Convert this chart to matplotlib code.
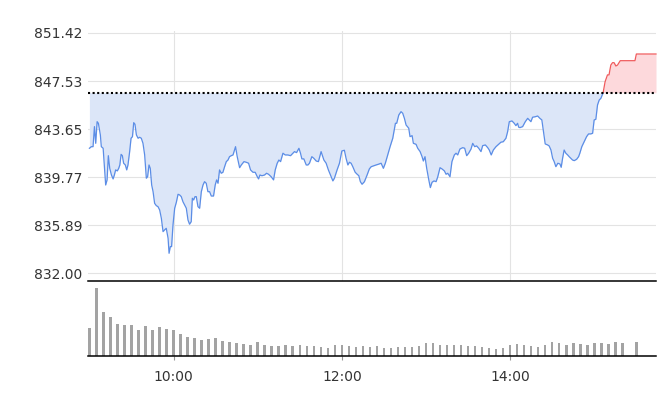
import numpy as np
import matplotlib
matplotlib.use("Agg")
import matplotlib.pyplot as plt
from matplotlib.patches import Rectangle

# intraday index level, minutes after 9:00
minutes = [0.0, 1.4, 2.6, 3.6, 4.5, 5.5, 6.4, 7.8, 8.5, 9.8, 10.9, 11.6, 12.6, 13.5, 14.5,
           15.7, 16.9, 17.8, 18.7, 19.9, 20.9, 21.7, 22.6, 23.5, 24.4, 25.6, 26.6, 27.5,
           28.7, 29.7, 30.7, 31.6, 32.5, 33.5, 34.7, 35.8, 37.0, 38.2, 39.4, 40.6, 41.5,
           42.5, 43.4, 44.4, 45.4, 46.5, 47.7, 48.9, 50.1, 51.3, 52.5, 53.6, 54.8, 56.1,
           56.8, 57.7, 58.6, 59.6, 60.8, 62.0, 63.2, 64.3, 65.5, 66.7, 67.9, 69.1, 70.3,
           71.4, 72.6, 73.4, 74.3, 75.3, 76.2, 77.4, 78.6, 79.8, 81.0, 82.1, 83.3, 84.5,
           85.7, 86.9, 88.5, 89.7, 90.7, 91.7, 92.8, 94.0, 95.2, 96.4, 97.6, 98.8, 99.9,
           101.1, 102.4, 103.5, 104.2, 105.4, 107.1, 108.3, 110.2, 111.8, 113.5, 114.9,
           116.6, 118.2, 119.7, 120.6, 121.6, 123.0, 124.9, 126.3, 127.7, 129.6, 131.3,
           132.5, 133.9, 135.1, 136.3, 138.0, 139.6, 141.5, 143.4, 145.1, 146.2, 147.7,
           149.4, 150.5, 151.5, 152.9, 154.6, 155.8, 156.9, 158.6, 160.0, 161.7, 163.3,
           165.2, 167.2, 168.8, 170.4, 171.9, 173.6, 174.7, 176.6, 178.3, 180.0, 181.8,
           183.0, 184.3, 185.4, 186.6, 187.8, 189.5, 190.9, 192.1, 193.2, 194.4, 196.1,
           198.0, 199.6, 200.9, 202.8, 204.4, 206.1, 208.0, 209.6, 211.0, 212.7, 214.4,
           216.3, 218.2, 219.1, 220.6, 222.2, 223.4, 224.6, 225.8, 227.7, 228.6, 230.1,
           231.0, 232.9, 234.1, 235.8, 237.2, 238.1, 239.3, 240.5, 242.0, 243.1, 244.3,
           245.7, 247.2, 248.4, 250.0, 251.4, 253.1, 254.3, 255.5, 257.1, 258.5, 260.2,
           261.4, 262.6, 264.2, 266.2, 267.6, 269.0, 270.4, 272.1, 273.3, 274.7, 276.1,
           277.6, 279.2, 280.4, 282.3, 284.0, 285.1, 286.5, 288.0, 289.9, 291.8, 293.4,
           295.1, 297.0, 298.2, 299.4, 301.3, 302.9, 304.1, 305.3, 306.1, 307.0, 308.9,
           310.8, 312.5, 313.6, 314.8, 316.0, 317.9, 319.6, 321.2, 322.6, 323.6, 325.0,
           326.7, 327.8, 329.1, 330.3, 331.4, 332.6, 334.0, 335.5, 336.4, 337.4, 338.5,
           339.7, 341.0, 342.1, 343.3, 344.5, 345.7, 347.4, 348.8, 349.7, 351.1, 352.8,
           354.5, 355.9, 357.5, 358.8, 359.9, 361.1, 362.3, 363.5, 364.7, 366.3, 367.7,
           369.4, 370.5, 371.8, 373.0, 374.1, 375.4, 376.6, 378.5, 389.0, 390.0, 404.0]

prices = [842.10, 842.23, 842.23, 843.85, 842.50, 844.25, 844.12, 843.18, 842.23, 842.10,
          840.21, 839.13, 839.54, 841.50, 840.48, 839.94, 839.62, 839.94, 840.35, 840.27,
          840.48, 840.75, 841.61, 841.50, 840.89, 840.75, 840.35, 840.75, 841.83, 842.91,
          843.04, 844.17, 844.04, 843.18, 842.91, 842.99, 842.91, 842.50, 841.56, 839.68,
          839.80, 840.75, 840.48, 839.13, 838.59, 837.65, 837.46, 837.38, 837.11, 836.44,
          835.36, 835.50, 835.63, 834.82, 833.61, 834.15, 834.15, 835.90, 837.25, 837.74,
          838.38, 838.33, 838.19, 837.78, 837.52, 837.25, 836.30, 835.96, 836.17, 838.06,
          837.92, 838.19, 838.19, 837.38, 837.25, 838.59, 839.13, 839.40, 839.27, 838.59,
          838.59, 838.24, 838.24, 839.13, 839.54, 839.27, 840.35, 840.08, 840.16, 840.61,
          841.02, 841.15, 841.42, 841.50, 841.56, 841.96, 842.23, 841.42, 840.53, 840.75,
          841.02, 840.97, 840.89, 840.35, 840.16, 840.16, 839.80, 839.62, 839.94, 839.88,
          839.94, 840.08, 840.00, 839.80, 839.54, 840.35, 840.89, 841.15, 841.02, 841.70,
          841.56, 841.56, 841.50, 841.70, 841.83, 841.75, 842.10, 841.70, 841.24, 841.24,
          840.75, 840.75, 840.89, 841.42, 841.29, 841.07, 841.02, 841.83, 841.15, 840.89,
          840.35, 839.94, 839.46, 839.68, 840.35, 840.89, 841.88, 841.94, 841.29, 840.75,
          840.97, 840.89, 840.61, 840.16, 840.00, 839.88, 839.40, 839.19, 839.40, 839.94,
          840.43, 840.61, 840.69, 840.75, 840.81, 840.89, 840.48, 840.89, 841.56, 842.23,
          842.91, 844.12, 844.12, 844.79, 845.06, 844.93, 844.52, 843.98, 843.72, 843.04,
          843.12, 842.50, 842.42, 842.10, 841.83, 841.42, 841.07, 841.42, 840.48, 839.54,
          838.92, 839.35, 839.46, 839.40, 839.80, 840.53, 840.43, 840.27, 840.00, 840.08,
          839.80, 841.02, 841.56, 841.70, 841.56, 842.04, 842.15, 842.10, 841.50, 841.70,
          842.04, 842.50, 842.23, 842.29, 842.10, 841.83, 842.31, 842.37, 842.15, 841.96,
          841.56, 841.96, 842.23, 842.42, 842.59, 842.63, 842.91, 843.44, 844.25, 844.31,
          844.12, 843.93, 844.12, 843.80, 843.77, 843.85, 844.25, 844.52, 844.39, 844.25,
          844.61, 844.65, 844.71, 844.52, 844.39, 843.58, 842.45, 842.37, 842.29, 841.96,
          841.29, 841.02, 840.61, 840.89, 840.83, 840.56, 841.29, 841.96, 841.70, 841.56,
          841.42, 841.29, 841.15, 841.10, 841.21, 841.42, 841.70, 842.23, 842.63, 843.04,
          843.26, 843.26, 843.31, 844.39, 844.44, 845.60, 846.00, 846.14, 846.59, 847.48,
          848.03, 848.03, 848.83, 849.02, 849.02, 848.75, 848.83, 849.18, 849.18, 849.72,
          849.72]

prevClose = 846.59

# 5 minute volume bars (15:25 has no trades)
barMinutes = list(range(0, 385, 5)) + [390]
volumes = [28, 68, 44, 39, 32, 31, 31, 26, 30, 26, 29, 27, 26, 22, 19, 18, 16, 17, 18, 15,
           14, 13, 12, 11, 14, 11, 10, 10, 11,
           10, 11, 10, 10, 9, 8, 11, 11, 10, 9, 10, 9, 10, 8, 8, 9, 9, 9, 10, 13, 13, 11,
           11, 11, 11, 10, 10, 9,
           8, 7, 8, 11, 12, 11, 10, 9, 11, 14, 13, 11, 13, 12, 11, 13, 13, 12, 14, 13,
           14]

yTicks = [832.00, 835.89, 839.77, 843.65, 847.53, 851.42]
xTicks = [60, 180, 300]
xTickLabels = ["10:00", "12:00", "14:00"]

t = np.array(minutes)
p = np.array(prices)

fig = plt.figure(figsize=(6.58, 4.08), dpi=100)
ax = fig.add_axes([88 / 658, 127 / 408, 568 / 658, 250 / 408])
axVol = fig.add_axes([88 / 658, 52 / 408, 568 / 658, 75 / 408])

# price panel
ax.fill_between(t, p, prevClose, where=p <= prevClose, interpolate=True,
                color="#dce6f8", linewidth=0)
ax.fill_between(t, p, prevClose, where=p >= prevClose, interpolate=True,
                color="#fdd9dc", linewidth=0)

# same line twice, clipped above / below the previous close
blueLine, = ax.plot(t, p, color="#5b8de6", linewidth=0.9)
redLine, = ax.plot(t, p, color="#f05a5c", linewidth=0.9)
blueLine.set_clip_path(Rectangle((-50, 800), 600, prevClose - 800, transform=ax.transData))
redLine.set_clip_path(Rectangle((-50, prevClose), 600, 100, transform=ax.transData))

ax.axhline(prevClose, color="black", linewidth=1.5, linestyle=(0, (1, 1.2)))

ax.set_xlim(-1, 404)
ax.set_ylim(831.37, 851.58)
ax.set_yticks(yTicks)
ax.set_yticklabels(["%.2f" % v for v in yTicks])
ax.set_xticks(xTicks)
ax.set_xticklabels([])
ax.grid(True, color="#e3e3e3", linewidth=0.8)
ax.set_axisbelow(True)
ax.tick_params(length=0, labelsize=10, labelcolor="#333333", pad=4)
for s in ax.spines.values():
    s.set_visible(False)

# volume panel
axVol.bar(barMinutes, volumes, width=1.8, color="#a3a3a3")
axVol.set_xlim(-1, 404)
axVol.set_ylim(0, 75)
axVol.set_yticks([])
axVol.set_xticks(xTicks)
axVol.set_xticklabels(xTickLabels)
axVol.tick_params(axis="x", length=3, color="#999999", labelsize=10,
                  labelcolor="#333333", pad=7)
axVol.spines["left"].set_visible(False)
axVol.spines["right"].set_visible(False)
axVol.spines["top"].set_linewidth(1.1)
axVol.spines["bottom"].set_linewidth(1.1)

fig.savefig("out.png", dpi=100)
